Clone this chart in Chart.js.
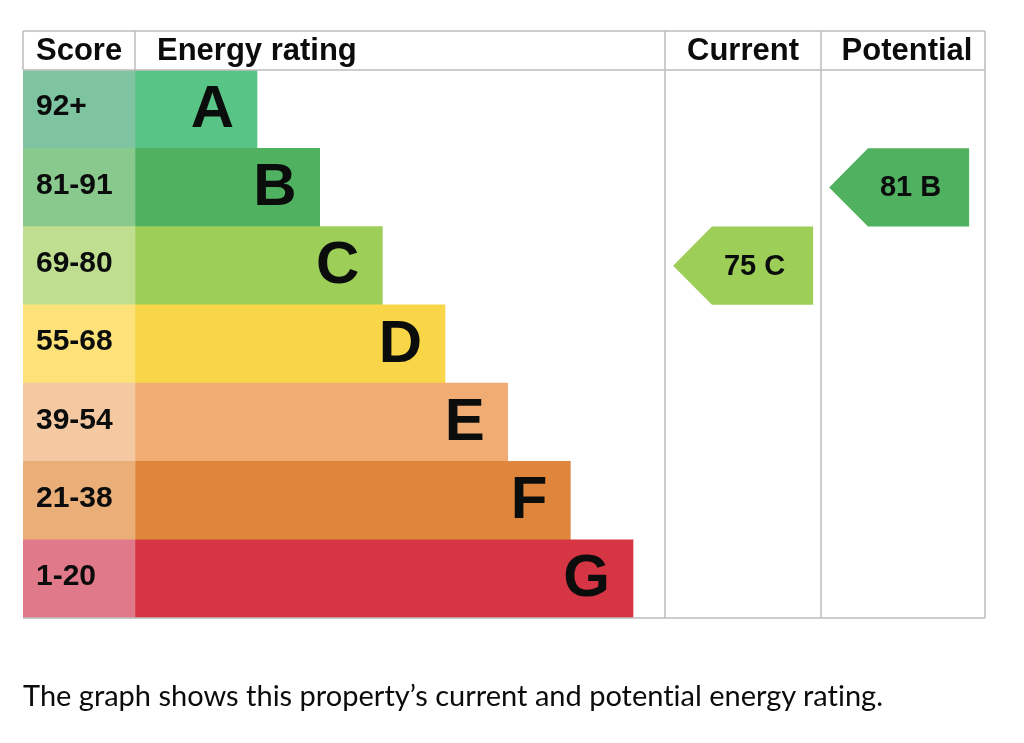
<!DOCTYPE html>
<html>
<head>
<meta charset="utf-8">
<script src="https://cdn.jsdelivr.net/npm/chart.js@4"></script>
<style>
    html, body { margin: 0; padding: 0; background: #ffffff; }
    #wrap { position: relative; width: 1024px; height: 743px; }
    #epc { position: absolute; left: 0; top: 0; }
    #caption {
        position: absolute; left: 23px; top: 677px;
        font-family: Lato, "Noto Sans", sans-serif; font-size: 29px; color: #0b0c0c;
        font-variant-ligatures: none;
        white-space: nowrap;
    }
</style>
</head>
<body>
<div id="wrap">
    <canvas id="epc" width="1024" height="743"></canvas>
    <div id="caption">The graph shows this property’s current and potential energy rating.</div>
</div>
<script>
// 등급 데이터
const bands = ['A', 'B', 'C', 'D', 'E', 'F', 'G'];
const scoreRanges = ['92+', '81-91', '69-80', '55-68', '39-54', '21-38', '1-20'];
const barLengths = [1, 2, 3, 4, 5, 6, 7];
const barColours = ['#58c486', '#50b161', '#9cce58', '#f8d648', '#f0ac72', '#e0863c', '#d63544'];
const scoreColours = ['#7fc4a0', '#8ac98d', '#bfde8f', '#fce278', '#f4c9a1', '#eaae79', '#e0798a'];

const currentScore = 75;
const currentBand = 'C';
const potentialScore = 81;
const potentialBand = 'B';

const headers = ['Score', 'Energy rating', 'Current', 'Potential'];

// 레이아웃 (x축 단위 = 등급 한 칸)
const X_MIN = -2.734;
const X_MAX = 12.617;
const SCORE_EDGE = -0.947;
const CURRENT_EDGE = 7.51;
const POTENTIAL_EDGE = 10.0;
const ARROW_GAP = 0.13;
const ARROW_TIP = 0.62;
const ARROW_WIDTH = 2.234;
const HEADER_H = 39;
const LINE_COLOUR = '#bdbdbd';
const FONT = '"Liberation Sans", Arial, sans-serif';

const epcPlugin = {
    id: 'epcTable',
    afterDatasetsDraw(chart) {
        const ctx = chart.ctx;
        const x = chart.scales.x;
        const y = chart.scales.y;
        const area = chart.chartArea;
        const rowH = (area.bottom - area.top) / bands.length;
        const top = area.top - HEADER_H;
        const px = v => x.getPixelForValue(v);

        ctx.save();

        // 표 테두리
        ctx.strokeStyle = LINE_COLOUR;
        ctx.lineWidth = 1.5;
        ctx.beginPath();
        ctx.moveTo(area.left, top); ctx.lineTo(area.right, top);
        ctx.moveTo(area.left, area.top); ctx.lineTo(area.right, area.top);
        ctx.moveTo(area.left, area.bottom); ctx.lineTo(area.right, area.bottom);
        ctx.moveTo(area.left, top); ctx.lineTo(area.left, area.top);
        ctx.moveTo(area.right, top); ctx.lineTo(area.right, area.bottom);
        ctx.moveTo(px(SCORE_EDGE), top); ctx.lineTo(px(SCORE_EDGE), area.top);
        ctx.moveTo(px(CURRENT_EDGE), top); ctx.lineTo(px(CURRENT_EDGE), area.bottom);
        ctx.moveTo(px(POTENTIAL_EDGE), top); ctx.lineTo(px(POTENTIAL_EDGE), area.bottom);
        ctx.stroke();

        // 헤더
        ctx.fillStyle = '#0b0c0c';
        ctx.font = 'bold 31px ' + FONT;
        ctx.textBaseline = 'middle';
        const hy = top + HEADER_H / 2 + 1;
        ctx.textAlign = 'left';
        ctx.fillText(headers[0], area.left + 13, hy);
        ctx.fillText(headers[1], px(SCORE_EDGE) + 22, hy);
        ctx.textAlign = 'center';
        ctx.fillText(headers[2], (px(CURRENT_EDGE) + px(POTENTIAL_EDGE)) / 2, hy);
        ctx.fillText(headers[3], (px(POTENTIAL_EDGE) + area.right) / 2 + 4, hy);

        // 점수 범위와 등급 문자
        bands.forEach((band, i) => {
            const cy = y.getPixelForValue(i);
            ctx.textAlign = 'left';
            ctx.font = 'bold 30px ' + FONT;
            ctx.fillText(scoreRanges[i], area.left + 13, cy - 2);
            ctx.textAlign = 'right';
            ctx.font = 'bold 60px ' + FONT;
            ctx.fillText(band, px(barLengths[i]) - 23, cy + 1);
        });

        // 현재 / 잠재 화살표
        const drawArrow = (edge, score, band) => {
            const i = bands.indexOf(band);
            const cy = y.getPixelForValue(i);
            const t = cy - rowH / 2;
            const b = cy + rowH / 2;
            const tip = px(edge + ARROW_GAP);
            const body = px(edge + ARROW_GAP + ARROW_TIP);
            const right = px(edge + ARROW_GAP + ARROW_WIDTH);
            ctx.fillStyle = barColours[i];
            ctx.beginPath();
            ctx.moveTo(tip, cy);
            ctx.lineTo(body, t);
            ctx.lineTo(right, t);
            ctx.lineTo(right, b);
            ctx.lineTo(body, b);
            ctx.closePath();
            ctx.fill();
            ctx.fillStyle = '#0b0c0c';
            ctx.font = 'bold 29px ' + FONT;
            ctx.textAlign = 'center';
            ctx.fillText(score + ' ' + band, (body + right) / 2 - 8, cy + 1);
        };
        drawArrow(CURRENT_EDGE, currentScore, currentBand);
        drawArrow(POTENTIAL_EDGE, potentialScore, potentialBand);

        ctx.restore();
    }
};

new Chart(document.getElementById('epc').getContext('2d'), {
    type: 'bar',
    data: {
        labels: bands,
        datasets: [
            {
                label: 'Score',
                data: bands.map(() => [X_MIN, SCORE_EDGE]),
                backgroundColor: scoreColours,
                grouped: false,
                borderWidth: 0
            },
            {
                label: 'Energy rating',
                data: barLengths.map(v => [SCORE_EDGE, v]),
                backgroundColor: barColours,
                grouped: false,
                borderWidth: 0
            }
        ]
    },
    options: {
        indexAxis: 'y',
        responsive: false,
        animation: false,
        barPercentage: 1,
        categoryPercentage: 1,
        layout: { padding: { left: 23, right: 39, top: 70, bottom: 125 } },
        scales: {
            x: { type: 'linear', min: X_MIN, max: X_MAX, display: false },
            y: { display: false }
        },
        plugins: {
            legend: { display: false },
            tooltip: { enabled: false }
        }
    },
    plugins: [epcPlugin]
});
</script>
</body>
</html>
